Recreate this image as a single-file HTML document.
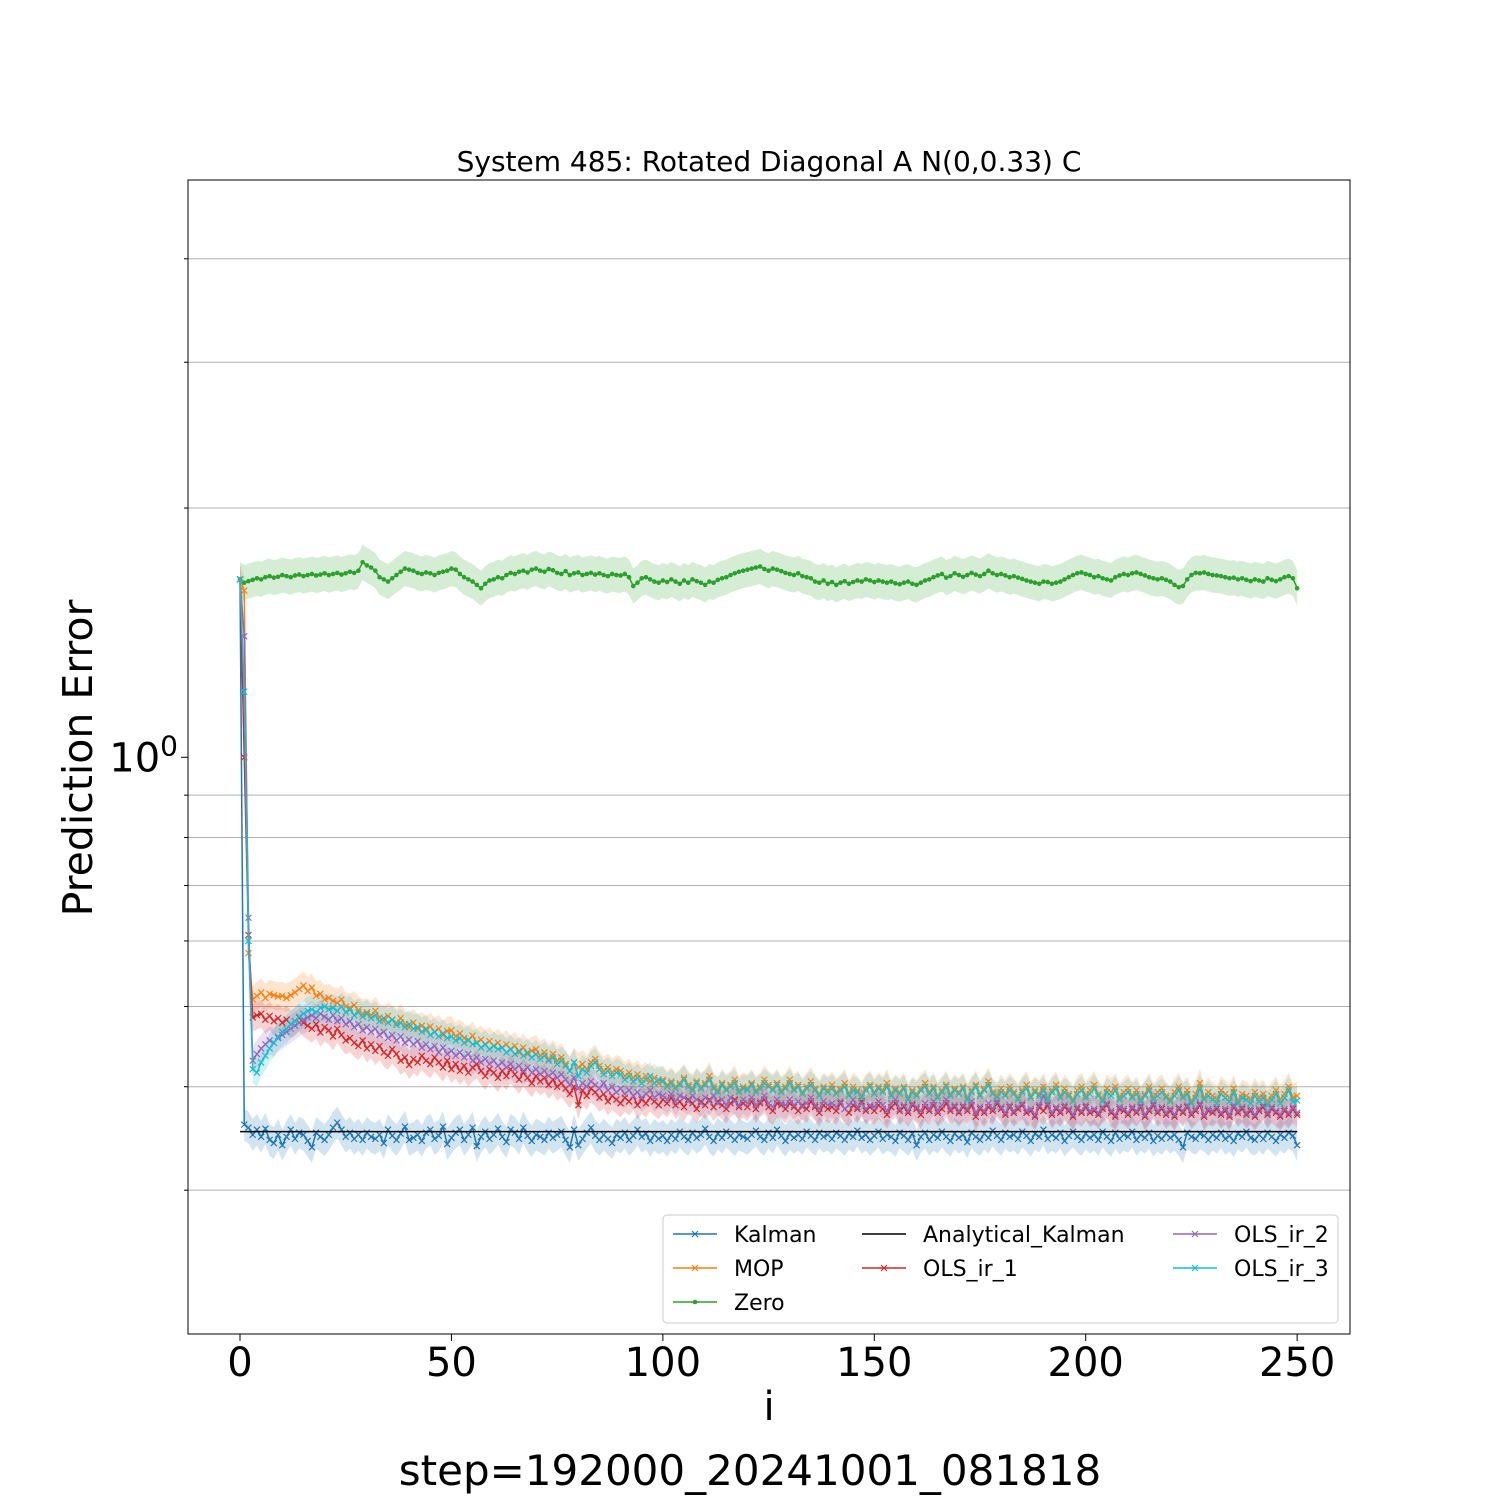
<!DOCTYPE html>
<html><head><meta charset="utf-8"><style>
html,body{margin:0;padding:0;background:#fff;}
svg text{font-family:"DejaVu Sans","Liberation Sans",sans-serif;}
</style></head><body>
<svg id="chart" width="1500" height="1500" viewBox="0 0 1500 1500" xmlns="http://www.w3.org/2000/svg">
<rect width="1500" height="1500" fill="#fff"/>
<text x="769" y="171" font-size="28" text-anchor="middle">System 485: Rotated Diagonal A N(0,0.33) C</text>
<g id="grid"></g>
<g id="bands"></g>
<g id="lines"></g>
<rect x="188" y="180" width="1162" height="1154" fill="none" stroke="#000" stroke-width="1"/>
<g id="axes"></g>
<text transform="translate(92,758) rotate(-90)" font-size="41" text-anchor="middle">Prediction Error</text>
<text x="769" y="1420" font-size="40" text-anchor="middle">i</text>
<text x="750" y="1485" font-size="42" text-anchor="middle">step=192000_20241001_081818</text>
<g id="legend"></g>
</svg>
<script>
const zero=[1640,1625,1632,1638,1645,1640,1650,1655,1648,1652,1660,1655,1650,1658,1662,1655,1660,1665,1658,1662,1668,1660,1665,1670,1662,1668,1675,1670,1680,1720,1705,1695,1680,1650,1640,1630,1645,1660,1675,1690,1685,1680,1670,1665,1672,1668,1660,1670,1675,1680,1690,1685,1665,1650,1640,1630,1615,1600,1620,1635,1640,1650,1645,1660,1670,1665,1675,1680,1672,1685,1690,1680,1675,1688,1682,1670,1665,1678,1660,1668,1672,1660,1665,1670,1662,1668,1660,1655,1665,1660,1658,1665,1650,1610,1625,1645,1650,1640,1630,1625,1635,1628,1640,1630,1620,1635,1625,1640,1632,1625,1615,1630,1625,1638,1645,1650,1660,1668,1675,1680,1685,1690,1695,1700,1688,1680,1690,1685,1678,1670,1665,1660,1668,1655,1650,1645,1630,1625,1635,1620,1628,1615,1625,1632,1620,1628,1635,1630,1640,1635,1628,1635,1630,1625,1630,1622,1618,1625,1630,1620,1615,1625,1635,1640,1650,1658,1665,1648,1655,1668,1660,1652,1660,1670,1662,1655,1665,1680,1668,1660,1665,1658,1650,1655,1648,1642,1635,1630,1625,1620,1630,1628,1620,1625,1630,1640,1650,1660,1668,1672,1665,1660,1650,1655,1645,1640,1635,1650,1658,1665,1660,1668,1672,1665,1658,1650,1645,1640,1645,1638,1630,1615,1605,1610,1640,1660,1670,1668,1672,1665,1660,1658,1655,1650,1645,1648,1640,1645,1638,1632,1640,1635,1630,1645,1638,1632,1640,1650,1655,1645,1600];
const kalman=[1640,360,357,350,355,348,356,345,342,350,340,348,355,346,352,350,344,338,352,348,345,350,357,362,355,348,352,346,350,345,352,348,346,350,342,355,349,345,351,358,345,347,350,344,352,355,346,349,358,341,347,352,355,345,350,357,339,348,353,346,350,356,348,343,355,352,346,357,349,344,350,348,345,352,347,350,353,345,338,355,340,346,352,357,349,345,350,346,342,350,347,352,345,349,355,348,351,344,350,346,349,344,350,346,353,348,345,352,347,350,356,348,344,351,347,353,349,345,350,348,346,350,354,348,345,352,347,355,349,344,351,347,350,346,353,349,345,352,348,350,346,352,349,345,351,348,354,347,350,345,349,353,346,350,348,344,352,349,345,351,340,348,352,345,350,347,353,348,344,351,347,350,343,352,348,345,351,347,354,349,345,352,348,350,346,353,349,344,351,348,355,346,350,347,352,344,349,353,348,345,351,347,350,345,353,348,344,352,346,350,348,353,345,350,347,352,344,349,346,351,347,350,345,338,352,348,346,351,349,345,350,347,352,346,349,344,351,348,353,347,345,350,346,352,348,344,350,347,352,349,340];
const mop=[1640,1590,580,510,515,520,512,518,516,514,515,512,516,520,525,530,522,527,515,518,510,512,508,505,510,500,498,502,495,490,492,488,494,485,480,487,482,478,484,476,472,478,470,474,468,473,466,470,462,467,468,460,464,458,455,461,452,456,450,454,448,452,446,450,444,448,440,446,438,442,444,436,440,432,438,430,434,426,418,428,422,426,420,428,432,424,418,422,416,420,418,412,416,410,414,408,412,406,410,404,408,402,406,400,404,410,402,398,406,400,404,412,400,396,404,398,402,408,396,400,398,404,396,400,408,402,398,404,396,400,408,398,402,394,400,406,398,392,400,396,402,394,398,404,392,400,396,390,398,402,394,400,396,404,392,398,394,400,388,396,392,398,404,394,400,390,396,402,392,398,394,400,388,396,402,392,398,406,394,390,398,392,400,394,388,396,402,390,396,392,400,388,396,402,390,398,392,386,396,400,390,396,402,392,386,398,394,400,388,394,398,390,396,386,392,400,388,394,398,390,386,394,400,390,396,384,392,404,388,394,390,386,396,392,388,398,384,392,390,386,394,388,392,384,390,396,386,392,400,388,390];
const analytical=[353];
const ols1=[1640,1000,610,485,488,490,482,487,480,484,478,482,476,480,485,478,474,470,476,465,472,468,460,470,462,455,458,452,448,455,445,450,442,448,440,436,444,438,430,434,425,432,428,436,430,426,434,428,422,430,420,426,418,424,416,422,426,418,412,420,416,410,418,412,420,414,408,416,410,404,412,406,410,402,408,400,404,398,392,400,380,396,390,398,394,388,392,384,390,386,382,388,384,390,380,386,382,388,384,380,386,382,388,380,384,378,386,382,376,384,380,386,378,384,380,376,382,386,378,382,378,384,376,382,386,378,374,382,380,376,382,378,374,380,376,384,378,372,380,376,378,374,382,376,372,380,376,384,374,378,374,380,376,370,378,382,374,378,372,380,376,370,378,374,380,372,376,382,374,378,372,378,374,380,368,376,372,378,374,382,376,370,378,372,376,380,372,374,368,378,374,380,370,376,372,378,374,368,376,372,378,372,374,370,376,380,372,368,376,374,370,376,372,378,368,374,380,372,376,370,374,368,376,372,378,370,374,380,368,374,372,376,370,374,368,378,372,376,370,374,368,374,378,370,376,372,368,374,370,376,370];
const ols2=[1640,1400,640,430,438,445,450,455,452,458,462,466,470,474,478,482,485,488,484,490,486,482,488,480,484,476,480,472,476,468,472,466,470,462,466,458,462,455,460,452,456,450,454,446,450,444,448,440,446,438,442,436,440,434,438,430,434,428,432,426,430,424,428,422,426,420,424,418,422,416,420,414,418,412,416,410,414,408,402,410,398,404,400,406,402,398,404,396,400,394,398,392,396,390,394,388,392,396,388,392,390,386,392,384,390,388,384,390,386,382,388,384,390,382,386,380,388,384,380,386,382,388,380,384,390,382,378,386,382,380,386,380,384,378,382,388,380,376,384,380,382,378,384,376,380,386,378,382,376,380,378,384,380,374,382,386,376,380,374,382,378,374,382,376,384,374,380,386,376,380,374,380,376,384,372,378,374,382,376,384,378,372,380,374,378,382,374,376,370,380,390,382,372,378,374,380,376,370,378,374,380,374,376,372,378,382,374,370,378,376,372,378,374,380,370,376,382,374,378,372,376,370,378,374,380,372,376,382,370,376,374,378,372,376,370,380,374,378,372,376,370,376,380,372,378,374,370,376,372,378,372];
const ols3=[1640,1200,600,420,416,428,436,445,452,460,466,470,476,480,486,490,494,496,492,498,500,496,498,494,500,492,496,488,492,486,490,484,488,480,484,478,482,475,478,472,476,470,472,466,470,462,466,460,464,458,460,455,458,452,456,450,452,446,450,444,448,444,446,440,444,438,442,436,440,434,438,432,436,430,434,426,430,424,418,428,412,420,416,424,428,420,414,418,412,416,414,408,412,406,410,404,408,412,404,408,406,400,404,398,402,408,400,396,404,398,402,408,398,394,402,396,400,404,394,398,396,402,394,398,404,400,396,402,394,398,404,396,400,392,398,402,396,390,398,394,398,392,396,400,390,396,394,388,396,400,392,398,394,400,390,396,392,398,386,394,390,396,400,392,398,388,394,400,390,396,392,398,386,394,400,390,396,402,392,388,394,390,396,392,386,394,398,388,394,390,396,386,394,398,388,394,390,384,392,396,388,392,398,390,384,394,390,396,386,390,394,388,392,384,390,396,386,390,394,388,384,390,396,388,392,382,388,398,386,390,386,382,392,388,384,394,382,388,386,382,390,384,388,380,386,392,382,388,396,384,385];
const xTicks=[0,50,100,150,200,250];
const yMinor=[0.3,0.4,0.5,0.6,0.7,0.8,0.9,2,3,4];
const yMajor=[1];

const NS="http://www.w3.org/2000/svg";
const X0=188,X1=1350,Y0=180,Y1=1334;
const xmin=-12.3,xmax=262.5,lymin=Math.log10(0.2011),lymax=Math.log10(4.98);
function sx(v){return X0+(v-xmin)/(xmax-xmin)*(X1-X0);}
function sy(v){return Y1-(Math.log10(v)-lymin)/(lymax-lymin)*(Y1-Y0);}
function mk(tag,attrs,parent){const e=document.createElementNS(NS,tag);for(const k in attrs)e.setAttribute(k,attrs[k]);parent.appendChild(e);return e;}
const grid=document.getElementById('grid'),axes=document.getElementById('axes');
yMinor.forEach(v=>{
  const g=mk('line',{x1:X0,x2:X1,y1:sy(v),y2:sy(v),stroke:'#b0b0b0','stroke-width':1},grid);
  
  
  const t=mk('line',{x1:X0-4,x2:X0,y1:sy(v),y2:sy(v),stroke:'#000','stroke-width':1},axes);
  
  
});
yMajor.forEach(v=>{
  const t=mk('line',{x1:X0-7,x2:X0,y1:sy(v),y2:sy(v),stroke:'#000','stroke-width':1},axes);
  
  
  const l=mk('text',{x:X0-10,y:sy(v)+14,'font-size':40,'text-anchor':'end'},axes);
  
  
  l.innerHTML='10<tspan dy="-16" font-size="28">0</tspan>';
});
xTicks.forEach(v=>{
  const t=mk('line',{x1:sx(v),x2:sx(v),y1:Y1,y2:Y1+7,stroke:'#000','stroke-width':1},axes);
  
  
  const l=mk('text',{x:sx(v),y:Y1+42,'font-size':40,'text-anchor':'middle'},axes);
  
  
  l.textContent=String(v);
});
const series=[
 {name:'Kalman',data:kalman,color:'#1f77b4',marker:'x',band:1.045},
 {name:'MOP',data:mop,color:'#ff7f0e',marker:'x',band:1.04},
 {name:'Zero',data:zero,color:'#2ca02c',marker:'dot',band:1.05},
 {name:'Analytical_Kalman',data:analytical,color:'#000',marker:'none',band:1},
 {name:'OLS_ir_1',data:ols1,color:'#d62728',marker:'x',band:1.04},
 {name:'OLS_ir_2',data:ols2,color:'#9467bd',marker:'x',band:1.04},
 {name:'OLS_ir_3',data:ols3,color:'#17becf',marker:'x',band:1.04}
];
const bands=document.getElementById('bands'),lines=document.getElementById('lines');
series.forEach(s=>{
  const vals=s.data.length===1?[s.data[0],s.data[0]]:s.data;
  const xs=s.data.length===1?[0,250]:vals.map((_,i)=>i);
  if(s.band>1){
    let up=xs.map((x,i)=>sx(x)+','+sy(vals[i]/1000*s.band));
    let dn=xs.map((x,i)=>sx(x)+','+sy(vals[i]/1000/s.band)).reverse();
    const b=mk('polygon',{points:up.concat(dn).join(' '),fill:s.color,'fill-opacity':0.2,stroke:'none'},bands);
    
    
  }
  const g=mk('g',{},lines);
  
  
  mk('polyline',{points:xs.map((x,i)=>sx(x)+','+sy(vals[i]/1000)).join(' '),fill:'none',stroke:s.color,'stroke-width':1.5},g);
  if(s.marker==='x'){
    let d='';
    xs.forEach((x,i)=>{const px=sx(x),py=sy(vals[i]/1000);d+=`M${px-3},${py-3}L${px+3},${py+3}M${px-3},${py+3}L${px+3},${py-3}`;});
    mk('path',{d:d,stroke:s.color,'stroke-width':1.2,fill:'none'},g);
  } else if(s.marker==='dot'){
    xs.forEach((x,i)=>mk('circle',{cx:sx(x),cy:sy(vals[i]/1000),r:2.3,fill:s.color},g));
  }
});
const lg=document.getElementById('legend');
const box=mk('rect',{x:663,y:1215,width:675,height:108,rx:4,fill:'#fff','fill-opacity':0.8,stroke:'#ccc'},lg);


const pos=[[673,1234],[673,1268],[673,1302],[862,1234],[862,1268],[1173,1234],[1173,1268]];
series.forEach((s,i)=>{
  const [x,y]=pos[i];
  const g=mk('g',{},lg);
  
  
  mk('line',{x1:x,x2:x+44,y1:y,y2:y,stroke:s.color,'stroke-width':1.5},g);
  if(s.marker==='x')mk('path',{d:`M${x+19},${y-3}L${x+25},${y+3}M${x+19},${y+3}L${x+25},${y-3}`,stroke:s.color,'stroke-width':1.2},g);
  if(s.marker==='dot')mk('circle',{cx:x+22,cy:y,r:2.3,fill:s.color},g);
  const t=mk('text',{x:x+61,y:y+8,'font-size':22},g);
  t.textContent=s.name;
});
</script>
</body></html>
